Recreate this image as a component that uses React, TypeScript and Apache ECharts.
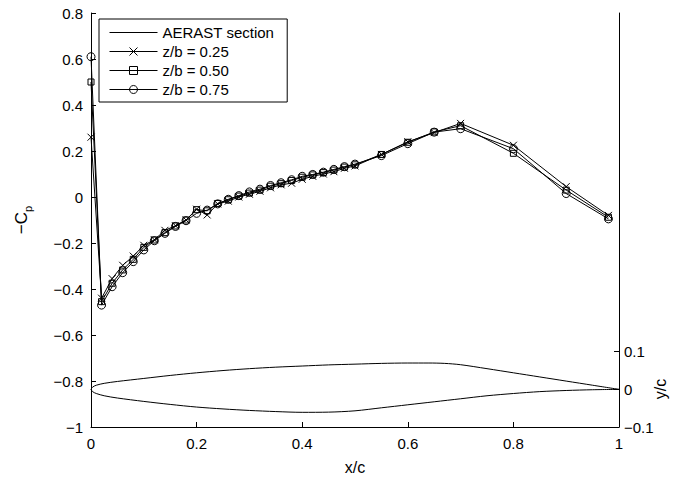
import React, { useEffect, useRef } from "react";
import * as echarts from "echarts";

const xPositions = [0, 0.02, 0.04, 0.06, 0.08, 0.1, 0.12, 0.14, 0.16, 0.18, 0.2, 0.22, 0.24, 0.26, 0.28, 0.3, 0.32, 0.34, 0.36, 0.38, 0.4, 0.42, 0.44, 0.46, 0.48, 0.5, 0.55, 0.6, 0.65, 0.7, 0.8, 0.9, 0.98];
const cpZ25 = [0.26, -0.44, -0.355, -0.297, -0.257, -0.21, -0.186, -0.145, -0.125, -0.1, -0.053, -0.078, -0.03, -0.018, 0.0, 0.012, 0.025, 0.04, 0.053, 0.06, 0.077, 0.09, 0.1, 0.11, 0.125, 0.135, 0.185, 0.24, 0.28, 0.32, 0.225, 0.045, -0.08];
const cpZ50 = [0.5, -0.455, -0.375, -0.317, -0.271, -0.219, -0.187, -0.155, -0.126, -0.1, -0.055, -0.06, -0.028, -0.012, 0.004, 0.017, 0.03, 0.047, 0.058, 0.072, 0.086, 0.096, 0.106, 0.117, 0.13, 0.14, 0.185, 0.238, 0.283, 0.31, 0.19, 0.03, -0.088];
const cpZ75 = [0.61, -0.47, -0.39, -0.329, -0.281, -0.23, -0.19, -0.158, -0.128, -0.103, -0.071, -0.057, -0.03, -0.01, 0.006, 0.022, 0.034, 0.05, 0.062, 0.075, 0.09, 0.098, 0.108, 0.12, 0.132, 0.143, 0.18, 0.232, 0.282, 0.297, 0.21, 0.015, -0.095];

const airfoilUpperX = [0, 0.003, 0.01, 0.025, 0.05, 0.1, 0.15, 0.2, 0.25, 0.3, 0.35, 0.4, 0.45, 0.5, 0.55, 0.6, 0.64, 0.67, 0.7, 0.75, 0.8, 0.85, 0.9, 0.95, 1.0];
const airfoilUpperY = [0, 0.006, 0.011, 0.016, 0.021, 0.029, 0.037, 0.044, 0.050, 0.055, 0.059, 0.062, 0.065, 0.067, 0.069, 0.0700, 0.0700, 0.0690, 0.0655, 0.0550, 0.0440, 0.0330, 0.0220, 0.0110, 0];
const airfoilLowerX = [0, 0.003, 0.01, 0.025, 0.05, 0.1, 0.15, 0.2, 0.25, 0.3, 0.35, 0.4, 0.45, 0.5, 0.55, 0.6, 0.65, 0.7, 0.75, 0.8, 0.85, 0.9, 0.95, 1.0];
const airfoilLowerY = [0, -0.006, -0.011, -0.017, -0.023, -0.032, -0.040, -0.047, -0.052, -0.056, -0.059, -0.061, -0.0605, -0.057, -0.049, -0.041, -0.033, -0.025, -0.017, -0.011, -0.006, -0.003, -0.001, 0];

const seriesNames = ["AERAST section", "z/b = 0.25", "z/b = 0.50", "z/b = 0.75"];
const rightTicks = [-0.1, 0, 0.1];

const FONT = "'Liberation Sans', Arial, Helvetica, sans-serif";
const fmt = (v: number) => String(+v.toFixed(2)).replace("-", "\u2212");

export default function App() {
  const ref = useRef<HTMLDivElement>(null);
  useEffect(() => {
    if (!ref.current) return;
    const chart = echarts.init(ref.current, null, { renderer: "svg" });
    const zip = (xs: number[], ys: number[]) => xs.map((x, i) => [x, ys[i]]);
    const markerStyle = { color: "rgba(0,0,0,0)", borderColor: "#000", borderWidth: 1 };
    const lineStyle = { color: "#000", width: 1 };
    const axisLine = { show: true, onZero: false, lineStyle: { color: "#000", width: 1 } };
    const labelStyle = { fontSize: 15, color: "#000", fontFamily: FONT };
    chart.setOption({
      animation: false,
      backgroundColor: "#fff",
      grid: { left: 91, right: 73, top: 13, bottom: 52, outerBoundsMode: "none" },
      legend: {
        orient: "vertical",
        left: 99,
        top: 19,
        padding: [6, 13, 5, 10],
        itemGap: 4,
        itemWidth: 48,
        itemHeight: 10,
        symbolKeepAspect: true,
        borderColor: "#000",
        borderWidth: 1,
        borderRadius: 0,
        backgroundColor: "#fff",
        lineStyle: { width: 1, color: "#000" },
        itemStyle: { borderWidth: 1 },
        textStyle: { fontSize: 15, color: "#000", fontFamily: FONT },
        data: [
          { name: seriesNames[0], icon: "path://M0,0L48,0L48,1L0,1Z", itemStyle: { color: "#000", borderWidth: 0 } },
          seriesNames[1],
          seriesNames[2],
          seriesNames[3],
        ],
      },
      xAxis: {
        type: "value",
        min: 0,
        max: 1,
        interval: 0.2,
        axisLine,
        axisTick: { show: true, inside: true, length: 5, lineStyle: { color: "#000" } },
        axisLabel: { ...labelStyle, margin: 9, formatter: fmt },
        splitLine: { show: false },
        name: "x/c",
        nameLocation: "middle",
        nameGap: 32,
        nameTextStyle: { fontSize: 16, color: "#000", fontFamily: FONT },
      },
      yAxis: [
        {
          type: "value",
          position: "left",
          min: -1,
          max: 0.8,
          interval: 0.2,
          axisLine,
          axisTick: { show: true, inside: true, length: 5, lineStyle: { color: "#000" } },
          axisLabel: { ...labelStyle, margin: 8, formatter: fmt },
          splitLine: { show: false },
          name: "{m|\u2212C}{s|p}",
          nameLocation: "middle",
          nameRotate: 90,
          nameGap: 58,
          nameTextStyle: {
            fontFamily: FONT,
            color: "#000",
            rich: {
              m: { fontSize: 17, color: "#000", fontFamily: FONT, lineHeight: 24, verticalAlign: "middle" },
              s: { fontSize: 11, color: "#000", fontFamily: FONT, lineHeight: 24, verticalAlign: "bottom" },
            },
          },
        },
        {
          type: "value",
          position: "right",
          min: -0.1,
          max: 1.0,
          axisLine,
          axisTick: { show: true, inside: true, length: 5, lineStyle: { color: "#000" }, customValues: rightTicks },
          axisLabel: { ...labelStyle, margin: 5, formatter: fmt, customValues: rightTicks },
          splitLine: { show: false },
        },
      ],
      graphic: [
        {
          type: "text",
          x: 660,
          y: 389,
          rotation: Math.PI / 2,
          style: { text: "y/c", font: `16px ${FONT}`, fill: "#000", align: "center", verticalAlign: "middle" },
        },
      ],
      series: [
        {
          name: seriesNames[0],
          type: "line",
          yAxisIndex: 1,
          data: zip(airfoilUpperX, airfoilUpperY),
          smooth: 0.3,
          showSymbol: false,
          symbol: "none",
          lineStyle,
          itemStyle: { color: "#000" },
        },
        {
          name: seriesNames[0],
          type: "line",
          yAxisIndex: 1,
          data: zip(airfoilLowerX, airfoilLowerY),
          smooth: 0.3,
          showSymbol: false,
          symbol: "none",
          lineStyle,
          itemStyle: { color: "#000" },
        },
        {
          name: seriesNames[1],
          type: "line",
          yAxisIndex: 0,
          data: zip(xPositions, cpZ25),
          symbol: "path://M0,0L10,10M10,0L0,10",
          symbolSize: 7,
          lineStyle,
          itemStyle: markerStyle,
        },
        {
          name: seriesNames[2],
          type: "line",
          yAxisIndex: 0,
          data: zip(xPositions, cpZ50),
          symbol: "rect",
          symbolSize: 6,
          lineStyle,
          itemStyle: markerStyle,
        },
        {
          name: seriesNames[3],
          type: "line",
          yAxisIndex: 0,
          data: zip(xPositions, cpZ75),
          symbol: "circle",
          symbolSize: 8,
          lineStyle,
          itemStyle: markerStyle,
        },
      ],
    });
    return () => chart.dispose();
  }, []);
  return <div ref={ref} style={{ position: "fixed", left: 0, top: 0, width: 692, height: 479 }} />;
}
